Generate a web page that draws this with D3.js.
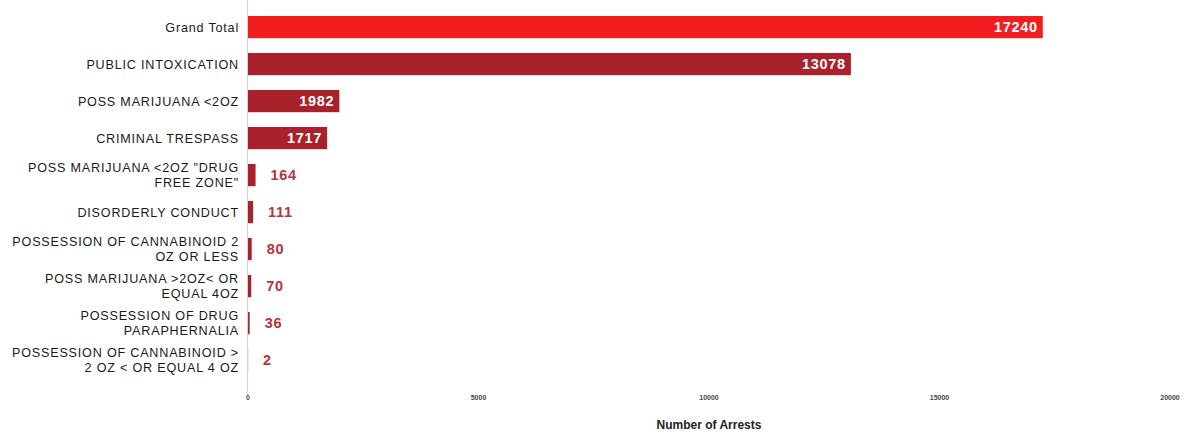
<!DOCTYPE html>
<html>
<head>
<meta charset="utf-8">
<script src="https://cdn.jsdelivr.net/npm/d3@7/dist/d3.min.js"></script>
<style>
  html, body { margin: 0; padding: 0; background: #fff; }
  svg { display: block; }
</style>
</head>
<body>
<svg id="chart" width="1185" height="438"></svg>
<script>
// Data
const categories = [
  ["Grand Total"],
  ["PUBLIC INTOXICATION"],
  ["POSS MARIJUANA <2OZ"],
  ["CRIMINAL TRESPASS"],
  ["POSS MARIJUANA <2OZ \"DRUG", "FREE ZONE\""],
  ["DISORDERLY CONDUCT"],
  ["POSSESSION OF CANNABINOID 2", "OZ OR LESS"],
  ["POSS MARIJUANA >2OZ< OR", "EQUAL 4OZ"],
  ["POSSESSION OF DRUG", "PARAPHERNALIA"],
  ["POSSESSION OF CANNABINOID >", "2 OZ < OR EQUAL 4 OZ"]
];
const values = [17240, 13078, 1982, 1717, 164, 111, 80, 70, 36, 2];
const tickValues = [0, 5000, 10000, 15000, 20000];
const axisTitle = "Number of Arrests";

const svg = d3.select("#chart");
const x = d3.scaleLinear().domain([0, 20000]).range([248, 1170]);
const idx = d3.range(values.length);
const y = d3.scaleBand().domain(idx).range([8.6, 378.6]).paddingInner(0.4).paddingOuter(0.2);

// axis line
svg.append("line")
  .attr("x1", 247.5).attr("x2", 247.5)
  .attr("y1", 0).attr("y2", 396)
  .attr("stroke", "#d4d4d4").attr("stroke-width", 1.2);

// bars
svg.selectAll("rect.bar").data(idx).enter().append("rect")
  .attr("class", "bar")
  .attr("x", x(0))
  .attr("y", i => y(i))
  .attr("width", i => Math.max(0, x(values[i]) - x(0)))
  .attr("height", y.bandwidth())
  .attr("fill", i => i === 0 ? "#f21d1f" : "#a9212a");

// value labels
svg.selectAll("text.val").data(idx).enter().append("text")
  .attr("class", "val")
  .attr("x", i => values[i] > 1000 ? x(values[i]) - 5 : x(values[i]) + 15)
  .attr("y", i => y(i) + y.bandwidth() / 2)
  .attr("dy", "0.36em")
  .attr("text-anchor", i => values[i] > 1000 ? "end" : "start")
  .attr("font-family", "Liberation Sans, Arial, sans-serif")
  .attr("font-weight", "bold")
  .attr("font-size", 14.5)
  .attr("letter-spacing", 0.7)
  .attr("fill", i => values[i] > 1000 ? "#ffffff" : "#b8313b")
  .text(i => values[i]);

// category labels (each line its own text element)
const lh = 14.5;
idx.forEach(i => {
  const lines = categories[i];
  const cy = y(i) + y.bandwidth() / 2;
  lines.forEach((ln, k) => {
    svg.append("text")
      .attr("class", "cat")
      .attr("x", 239)
      .attr("y", cy + (k - (lines.length - 1) / 2) * lh)
      .attr("dy", "0.36em")
      .attr("text-anchor", "end")
      .attr("font-family", "Liberation Sans, Arial, sans-serif")
      .attr("font-size", 12.6)
      .attr("letter-spacing", 0.8)
      .attr("fill", "#1a1a1a")
      .text(ln);
  });
});

// x ticks
svg.selectAll("text.tick").data(tickValues).enter().append("text")
  .attr("class", "tick")
  .attr("x", d => x(d))
  .attr("y", 397)
  .attr("dy", "0.36em")
  .attr("text-anchor", "middle")
  .attr("font-family", "Liberation Sans, Arial, sans-serif")
  .attr("font-weight", "bold")
  .attr("font-size", 7)
  .attr("fill", "#444")
  .text(d => d);

// axis title
svg.append("text")
  .attr("x", 709)
  .attr("y", 425)
  .attr("dy", "0.36em")
  .attr("text-anchor", "middle")
  .attr("font-family", "Liberation Sans, Arial, sans-serif")
  .attr("font-weight", "bold")
  .attr("font-size", 12)
  .attr("fill", "#222")
  .text(axisTitle);
</script>
</body>
</html>
